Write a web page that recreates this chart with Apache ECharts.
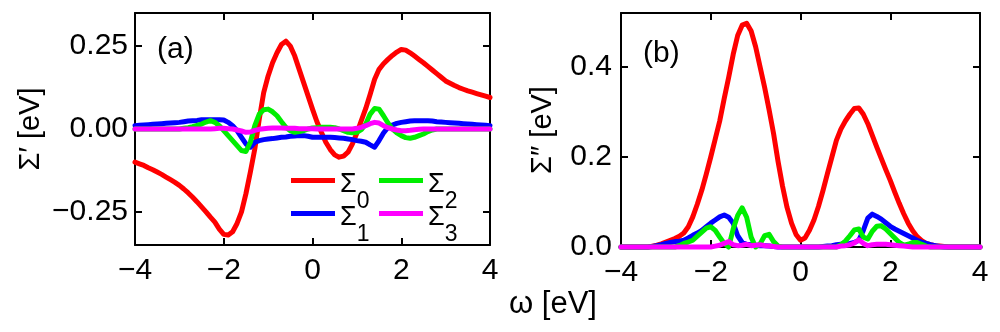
<!DOCTYPE html>
<html>
<head>
<meta charset="utf-8">
<script src="https://cdn.jsdelivr.net/npm/echarts@6/dist/echarts.min.js"></script>
<style>
  html, body { margin: 0; padding: 0; background: #fff; }
  #chart { width: 1000px; height: 332px; }
</style>
</head>
<body>
<div id="chart"></div>
<script>
// frequency grid, eV
var omega = [
  -4.0, -3.9, -3.8, -3.7, -3.6, -3.5, -3.4, -3.3, -3.2, -3.1,
  -3.0, -2.9, -2.8, -2.7, -2.6, -2.5, -2.4, -2.3, -2.2, -2.1,
  -2.0, -1.9, -1.8, -1.7, -1.6, -1.5, -1.4, -1.3, -1.2, -1.1,
  -1.0, -0.9, -0.8, -0.7, -0.6, -0.5, -0.4, -0.3, -0.2, -0.1,
  0.0, 0.1, 0.2, 0.3, 0.4, 0.5, 0.6, 0.7, 0.8, 0.9,
  1.0, 1.1, 1.2, 1.3, 1.4, 1.5, 1.6, 1.7, 1.8, 1.9,
  2.0, 2.1, 2.2, 2.3, 2.4, 2.5, 2.6, 2.7, 2.8, 2.9,
  3.0, 3.1, 3.2, 3.3, 3.4, 3.5, 3.6, 3.7, 3.8, 3.9,
  4.0
];

// (a) real part
var re0 = [
  -0.100, -0.105, -0.110, -0.117, -0.123, -0.130, -0.137, -0.145, -0.153, -0.161,
  -0.170, -0.181, -0.193, -0.206, -0.220, -0.235, -0.250, -0.266, -0.281, -0.302,
  -0.318, -0.320, -0.310, -0.285, -0.250, -0.195, -0.130, -0.060, 0.030, 0.110,
  0.160, 0.200, 0.230, 0.255, 0.265, 0.250, 0.220, 0.180, 0.140, 0.100,
  0.060, 0.022, -0.010, -0.040, -0.062, -0.078, -0.085, -0.082, -0.070, -0.045,
  -0.012, 0.025, 0.062, 0.105, 0.150, 0.180, 0.197, 0.210, 0.222, 0.232,
  0.240, 0.238, 0.230, 0.220, 0.210, 0.200, 0.189, 0.178, 0.167, 0.156,
  0.145, 0.138, 0.131, 0.125, 0.120, 0.115, 0.111, 0.107, 0.103, 0.099,
  0.095
];
var re1 = [
  0.010, 0.011, 0.012, 0.013, 0.014, 0.015, 0.016, 0.017, 0.018, 0.019,
  0.020, 0.022, 0.024, 0.025, 0.026, 0.028, 0.028, 0.028, 0.028, 0.028,
  0.027, 0.020, 0.010, -0.005, -0.025, -0.045, -0.055, -0.040, -0.035, -0.032,
  -0.030, -0.029, -0.027, -0.025, -0.024, -0.022, -0.021, -0.020, -0.020, -0.022,
  -0.025, -0.025, -0.025, -0.025, -0.025, -0.026, -0.027, -0.028, -0.030, -0.032,
  -0.035, -0.037, -0.040, -0.048, -0.055, -0.035, -0.012, 0.005, 0.012, 0.017,
  0.020, 0.022, 0.024, 0.025, 0.025, 0.025, 0.025, 0.024, 0.022, 0.021,
  0.020, 0.019, 0.018, 0.017, 0.016, 0.015, 0.014, 0.013, 0.012, 0.011,
  0.010
];
var re2 = [
  0, 0, 0, 0, 0, 0, 0, 0, 0, 0,
  0, 0.002, 0.004, 0.007, 0.011, 0.015, 0.021, 0.025, 0.020, 0.010,
  -0.005, -0.020, -0.035, -0.050, -0.065, -0.068, -0.040, 0.010, 0.045, 0.058,
  0.060, 0.052, 0.040, 0.022, 0.005, -0.005, -0.010, -0.008, -0.005, 0.000,
  0.003, 0.004, 0.005, 0.005, 0.005, 0.004, 0.000, -0.005, -0.010, -0.011,
  -0.010, -0.002, 0.015, 0.045, 0.062, 0.060, 0.040, 0.018, 0.000, -0.012,
  -0.020, -0.026, -0.028, -0.025, -0.020, -0.015, -0.008, -0.003, 0.000, 0,
  0, 0, 0, 0, 0, 0, 0, 0, 0, 0,
  0
];
var re3 = [
  0, 0, 0, 0, 0, 0, 0, 0, 0, 0,
  0, 0, 0, 0, 0, 0, 0, 0, 0.001, 0.002,
  0.002, 0.001, 0.000, -0.003, -0.006, -0.010, -0.009, -0.004, -0.001, 0.001,
  0.002, 0.003, 0.003, 0.003, 0.002, 0.002, 0.002, 0.001, 0.001, 0.001,
  0.001, 0, 0, 0, 0, 0, 0, 0, 0, 0,
  0.002, 0.005, 0.010, 0.016, 0.020, 0.018, 0.010, 0.004, 0.000, -0.003,
  -0.005, -0.005, -0.004, -0.002, -0.001, 0, 0, 0, 0, 0,
  0, 0, 0, 0, 0, 0, 0, 0, 0, 0,
  0
];

// (b) imaginary part
var im0 = [
  0, 0, 0, 0, 0, 0, 0, 0.002, 0.004, 0.007,
  0.011, 0.015, 0.019, 0.024, 0.031, 0.045, 0.067, 0.095, 0.126, 0.162,
  0.200, 0.240, 0.280, 0.330, 0.377, 0.428, 0.470, 0.493, 0.497, 0.480,
  0.445, 0.400, 0.355, 0.305, 0.252, 0.190, 0.135, 0.088, 0.053, 0.028,
  0.015, 0.020, 0.037, 0.060, 0.090, 0.125, 0.163, 0.200, 0.237, 0.262,
  0.280, 0.295, 0.308, 0.309, 0.295, 0.274, 0.248, 0.222, 0.197, 0.172,
  0.148, 0.122, 0.097, 0.074, 0.053, 0.036, 0.023, 0.014, 0.008, 0.005,
  0.003, 0.002, 0.001, 0, 0, 0, 0, 0, 0, 0,
  0
];
var im1 = [
  0, 0, 0, 0, 0, 0, 0, 0.001, 0.003, 0.005,
  0.008, 0.010, 0.012, 0.013, 0.015, 0.020, 0.026, 0.031, 0.037, 0.045,
  0.053, 0.060, 0.067, 0.071, 0.066, 0.053, 0.025, 0.010, 0.006, 0.005,
  0.004, 0.003, 0.003, 0.002, 0.001, 0, 0, 0, 0, 0,
  0, 0, 0, 0, 0, 0.001, 0.002, 0.003, 0.005, 0.006,
  0.007, 0.008, 0.010, 0.015, 0.037, 0.064, 0.073, 0.068, 0.062, 0.054,
  0.046, 0.040, 0.035, 0.030, 0.025, 0.020, 0.015, 0.011, 0.008, 0.005,
  0.003, 0.001, 0, 0, 0, 0, 0, 0, 0, 0,
  0
];
var im2 = [
  0, 0, 0, 0, 0, 0, 0, 0, 0, 0,
  0, 0, 0, 0.003, 0.008, 0.011, 0.015, 0.024, 0.033, 0.042,
  0.045, 0.037, 0.022, 0.008, 0.000, 0.040, 0.070, 0.087, 0.066, 0.022,
  0.000, 0.007, 0.025, 0.028, 0.012, 0.002, 0, 0, 0, 0,
  0, 0, 0, 0, 0, 0, 0, 0, 0, 0.005,
  0.013, 0.025, 0.038, 0.040, 0.022, 0.018, 0.035, 0.046, 0.047, 0.040,
  0.030, 0.020, 0.010, 0.004, 0.006, 0.010, 0.010, 0.006, 0.002, 0,
  0, 0, 0, 0, 0, 0, 0, 0, 0, 0,
  0
];
var im3 = [
  0, 0, 0, 0, 0, 0, 0, 0, 0, 0,
  0, 0, 0, 0, 0, 0, 0, 0, 0, 0,
  0, 0.002, 0.004, 0.008, 0.012, 0.005, 0.003, 0.004, 0.006, 0.003,
  0.004, 0.005, 0.003, 0.002, 0.001, 0, 0, 0, 0, 0,
  0, 0, 0, 0, 0, 0, 0, 0, 0, 0.002,
  0.003, 0.005, 0.009, 0.016, 0.008, 0.003, 0.005, 0.006, 0.006, 0.006,
  0.005, 0.004, 0.003, 0.002, 0.001, 0, 0, 0, 0, 0,
  0, 0, 0, 0, 0, 0, 0, 0, 0, 0,
  0
];

var xTicks = [-4, -2, 0, 2, 4];
var reTicks = [-0.25, 0, 0.25];
var imTicks = [0, 0.2, 0.4];
var names = ["Σ0", "Σ1", "Σ2", "Σ3"];
var colors = ["#ff0000", "#0000ff", "#00ee00", "#ff00ff"];

var FONT = "Liberation Sans, Arial, sans-serif";
var chart = echarts.init(document.getElementById("chart"), null, { renderer: "canvas" });

function pairs(ys) {
  return omega.map(function (w, i) { return [w, ys[i]]; });
}
function minus(s) {
  return String(s).replace("-", "\u2212");
}

var axisLine = { show: true, onZero: false, lineStyle: { color: "#000", width: 2 } };
var tickBase = { show: true, inside: true, length: 7, lineStyle: { color: "#000", width: 2 } };

function xAxisOf(grid, pos) {
  return {
    type: "value", gridIndex: grid, position: pos, min: -4, max: 4, interval: 2,
    axisLine: axisLine, axisTick: tickBase, splitLine: { show: false },
    axisLabel: {
      show: pos === "bottom", margin: 11, color: "#000", fontSize: 30, fontFamily: FONT,
      formatter: function (v) { return minus(v); }
    }
  };
}
function yAxisOf(grid, pos, min, max, ticks, digits, extra) {
  var ax = {
    type: "value", gridIndex: grid, position: pos, min: min, max: max,
    axisLine: axisLine, splitLine: { show: false },
    axisTick: Object.assign({}, tickBase, { customValues: ticks }),
    axisLabel: {
      show: pos === "left", customValues: ticks, margin: digits === 2 ? 7 : 9,
      color: "#000", fontSize: 30, fontFamily: FONT,
      formatter: function (v) { return minus(v.toFixed(digits)); }
    }
  };
  return Object.assign(ax, extra || {});
}

function lineSeries(name, ys, color, xi, yi) {
  return {
    name: name, type: "line", data: pairs(ys), xAxisIndex: xi, yAxisIndex: yi,
    showSymbol: false, symbol: "none", clip: xi !== 2,
    lineStyle: { color: color, width: 5, cap: "round", join: "round" },
    itemStyle: { color: color }
  };
}

function legendAt(name, left, top) {
  return {
    data: [{ name: name, icon: "rect" }], left: left, top: top, padding: 0,
    itemWidth: 44, itemHeight: 5, itemGap: 0,
    formatter: function (n) { return "{s|Σ}{sub|" + n.slice(1) + "}"; },
    textStyle: {
      color: "#000", fontFamily: FONT,
      rich: {
        s: { fontSize: 27, fontFamily: FONT, color: "#000", padding: [23, 0, 0, 0], verticalAlign: "top" },
        sub: { fontSize: 23, fontFamily: FONT, color: "#000", padding: [42, 0, 0, 0], verticalAlign: "top" }
      }
    }
  };
}

var nameStyle = { color: "#000", fontSize: 29, fontFamily: FONT };

var option = {
  animation: false,
  backgroundColor: "#fff",
  title: [
    { text: "(a)", left: 157, top: 35, padding: 0, textStyle: { fontSize: 30, fontWeight: "normal", fontFamily: FONT, color: "#000" } },
    { text: "(b)", left: 643, top: 39, padding: 0, textStyle: { fontSize: 30, fontWeight: "normal", fontFamily: FONT, color: "#000" } },
    { text: "ω [eV]", left: 509, top: 289, padding: 0, textStyle: { fontSize: 31, fontWeight: "normal", fontFamily: FONT, color: "#000" } }
  ],
  legend: [
    legendAt(names[0], 291, 171),
    legendAt(names[2], 379, 171),
    legendAt(names[1], 291, 204),
    legendAt(names[3], 379, 204)
  ],
  grid: [
    { left: 135, top: 13, width: 355, height: 232 },
    { left: 621, top: 13, width: 359, height: 234 }
  ],
  xAxis: [
    xAxisOf(0, "bottom"), xAxisOf(0, "top"),
    xAxisOf(1, "bottom"), xAxisOf(1, "top")
  ],
  yAxis: [
    yAxisOf(0, "left", -0.35, 0.35, reTicks, 2,
      { name: "Σ′ [eV]", nameLocation: "middle", nameRotate: 90, nameGap: 90, nameTextStyle: nameStyle }),
    yAxisOf(0, "right", -0.35, 0.35, reTicks, 2),
    yAxisOf(1, "left", 0, 0.52, imTicks, 1,
      { name: "Σ″ [eV]", nameLocation: "middle", nameRotate: 90, nameGap: 64, nameTextStyle: nameStyle }),
    yAxisOf(1, "right", 0, 0.52, imTicks, 1)
  ],
  series: [
    lineSeries(names[0], re0, colors[0], 0, 0),
    lineSeries(names[1], re1, colors[1], 0, 0),
    lineSeries(names[2], re2, colors[2], 0, 0),
    lineSeries(names[3], re3, colors[3], 0, 0),
    lineSeries(names[0], im0, colors[0], 2, 2),
    lineSeries(names[1], im1, colors[1], 2, 2),
    lineSeries(names[2], im2, colors[2], 2, 2),
    lineSeries(names[3], im3, colors[3], 2, 2)
  ]
};

chart.setOption(option);
</script>
</body>
</html>
